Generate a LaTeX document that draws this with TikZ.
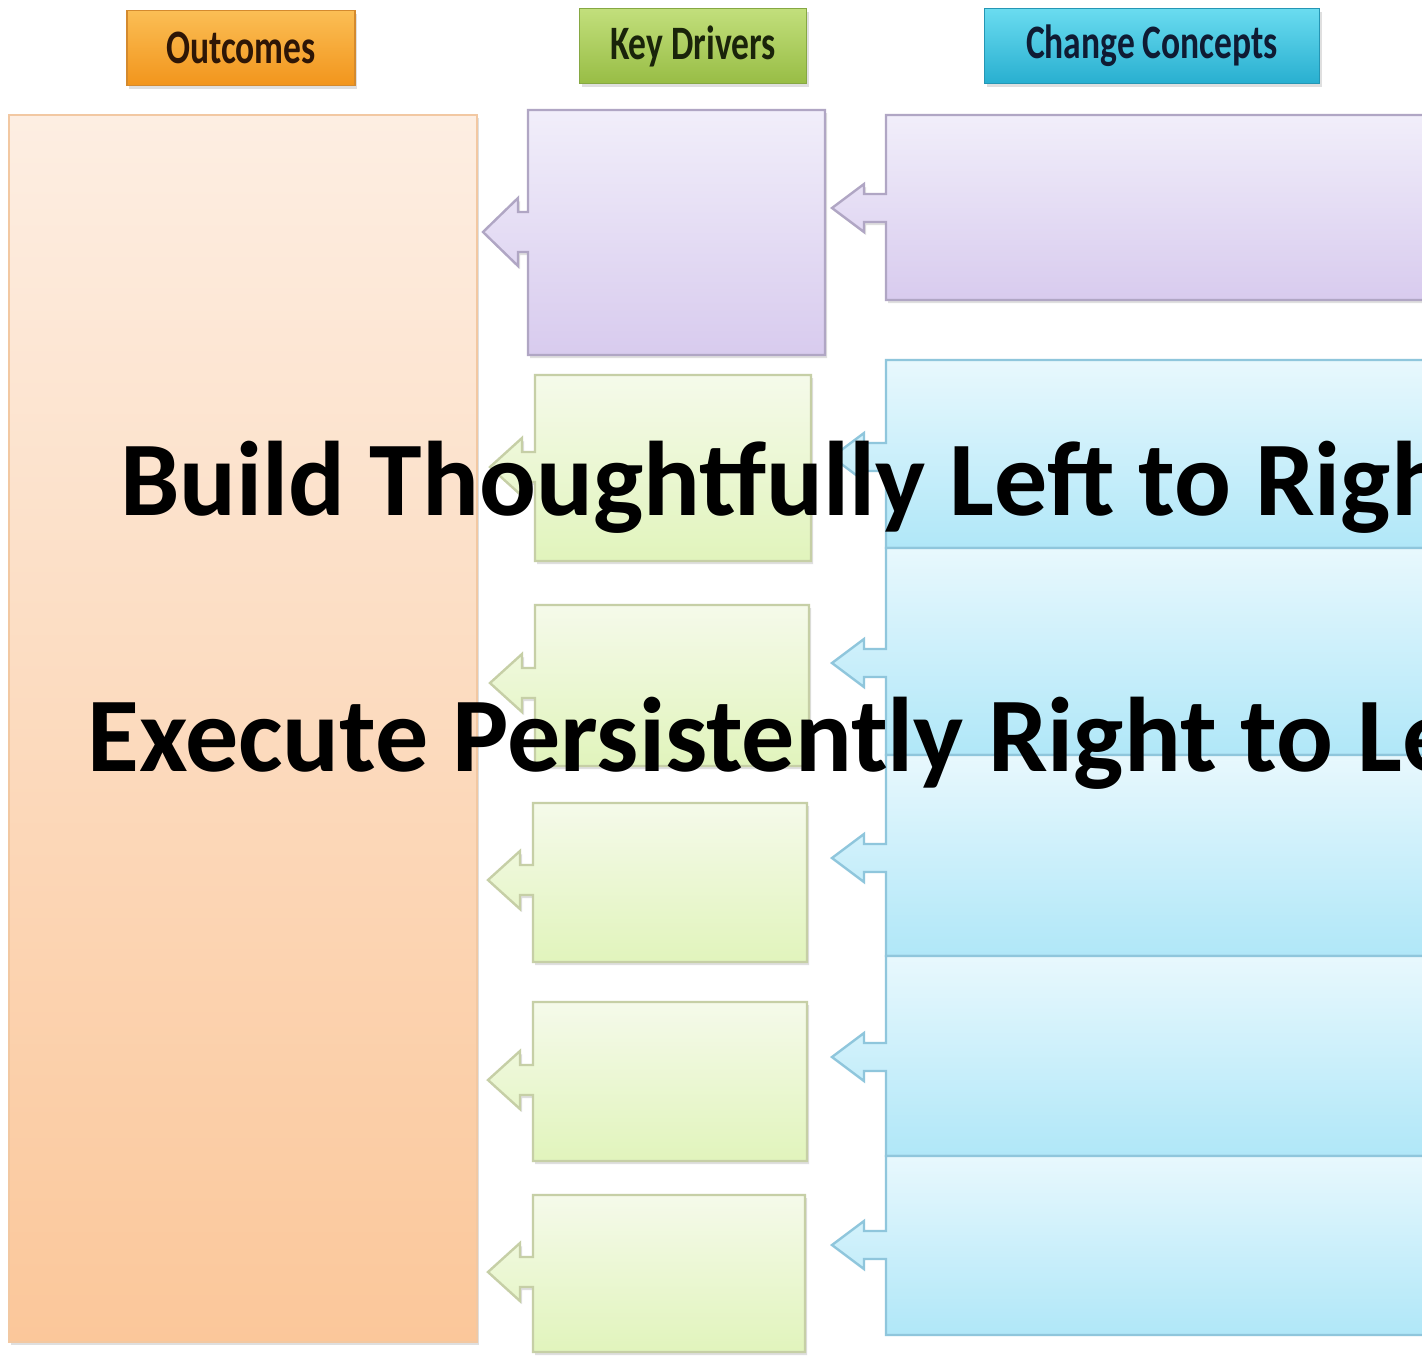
\documentclass[tikz,border=0pt]{standalone}
\usepackage{fontspec}
\setmainfont{Carlito}
\usetikzlibrary{shadows}
\definecolor{orTop}{HTML}{FDEEE2}
\definecolor{orBot}{HTML}{FBC79A}
\definecolor{orLine}{HTML}{F2C8A2}
\definecolor{puTop}{HTML}{F1EEFA}
\definecolor{puBot}{HTML}{D8CBEE}
\definecolor{puLine}{HTML}{B0A6C4}
\definecolor{grTop}{HTML}{F5FAEA}
\definecolor{grBot}{HTML}{E1F4BC}
\definecolor{grLine}{HTML}{C6CFA6}
\definecolor{cyTop}{HTML}{E8F8FD}
\definecolor{cyBot}{HTML}{B0E7F8}
\definecolor{cyLine}{HTML}{8FC6DC}
\definecolor{hOrTop}{HTML}{FBBE55}
\definecolor{hOrBot}{HTML}{F2951C}
\definecolor{hOrLine}{HTML}{D48A2E}
\definecolor{hGrTop}{HTML}{C2DF7C}
\definecolor{hGrBot}{HTML}{98BD45}
\definecolor{hGrLine}{HTML}{86A843}
\definecolor{hCyTop}{HTML}{6ADCF0}
\definecolor{hCyBot}{HTML}{28AFD0}
\definecolor{hCyLine}{HTML}{2596B4}
\definecolor{txOr}{HTML}{2E1606}
\definecolor{txGr}{HTML}{1A240A}
\definecolor{txCy}{HTML}{0F1B33}
\tikzset{
  shad/.style={drop shadow={opacity=0.25,shadow xshift=1pt,shadow yshift=-1.5pt}},
  outbox/.style={shad,top color=orTop,bottom color=orBot,draw=orLine,line width=1.2pt},
  purplebox/.style={shad,top color=puTop,bottom color=puBot,draw=puLine,line width=1.2pt},
  greenbox/.style={shad,top color=grTop,bottom color=grBot,draw=grLine,line width=1.2pt},
  cyanbox/.style={top color=cyTop,bottom color=cyBot,draw=cyLine,line width=1.2pt},
  hdr/.style={shad,line width=0.8pt,minimum height=37.5pt,inner sep=0pt,
    font=\fontsize{24pt}{24pt}\selectfont\bfseries},
  bigtext/.style={font=\fontsize{53pt}{53pt}\selectfont\bfseries,inner sep=0pt,anchor=base west}
}
% callout: #1 style, #2 xl, #3 xr, #4 yt, #5 yb, #6 tip y ; geometry from \tl \hl \hh \sh
\newcommand\callout[6]{%
  \path[#1] (#2,#4) -- (#3,#4) -- (#3,#5) -- (#2,#5) -- (#2,{#6+\sh})
    -- ({#2-\hl},{#6+\sh}) -- ({#2-\hl},{#6+\hh}) -- ({#2-\tl},#6)
    -- ({#2-\hl},{#6-\hh}) -- ({#2-\hl},{#6-\sh}) -- (#2,{#6-\sh}) -- cycle;}
\begin{document}
\begin{tikzpicture}[x=0.5pt,y=-0.5pt]
\useasboundingbox (0,0) rectangle (1422,1355);
\fill[white] (0,0) rectangle (1422,1355);
\clip (0,0) rectangle (1422,1355);
% headers
\node[hdr,top color=hOrTop,bottom color=hOrBot,draw=hOrLine,minimum width=114pt,text=txOr]
  (outcomes) at (241,48) {\scalebox{0.74}[1]{Outcomes}};
\node[hdr,top color=hGrTop,bottom color=hGrBot,draw=hGrLine,minimum width=113.5pt,text=txGr]
  (drivers) at (693,46) {\scalebox{0.74}[1]{Key Drivers}};
\node[hdr,top color=hCyTop,bottom color=hCyBot,draw=hCyLine,minimum width=167.5pt,text=txCy]
  (concepts) at (1152,46) {\scalebox{0.74}[1]{Change Concepts}};
% outcomes column
\path[outbox] (9,115) rectangle (477,1342);
% key drivers
\def\tl{45}\def\hl{10}\def\hh{34}\def\sh{20}
\callout{purplebox}{528}{825}{110}{355}{232}
\def\tl{45}\def\hl{13}\def\hh{29}\def\sh{15}
\callout{greenbox}{535}{811}{375}{561}{467}
\callout{greenbox}{535}{809}{605}{766}{683}
\callout{greenbox}{533}{807}{803}{962}{880}
\callout{greenbox}{533}{807}{1002}{1161}{1080}
\callout{greenbox}{533}{805}{1195}{1352}{1272}
% change concepts
\def\tl{54}\def\hl{22}\def\hh{24}\def\sh{14}
\callout{purplebox}{886}{1440}{115}{300}{208}
\callout{cyanbox}{886}{1440}{360}{548}{457}
\callout{cyanbox}{886}{1440}{548}{755}{663}
\callout{cyanbox}{886}{1440}{755}{956}{858}
\callout{cyanbox}{886}{1440}{956}{1156}{1057}
\callout{cyanbox}{886}{1440}{1156}{1335}{1245}
% overlay text
\node[bigtext] (build) at (120,515) {Build Thoughtfully Left to Right};
\node[bigtext] (execute) at (87,771) {Execute Persistently Right to Left};
\end{tikzpicture}
\end{document}
